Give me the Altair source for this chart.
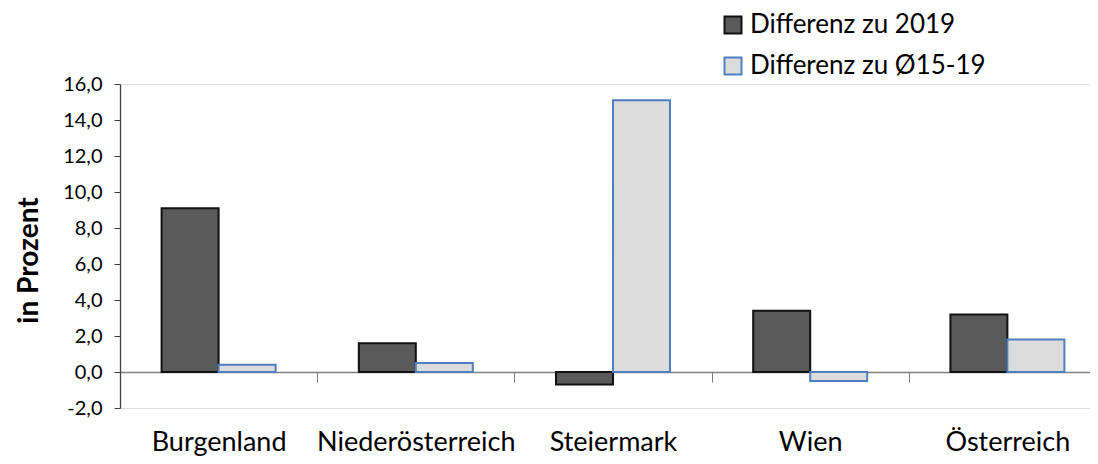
import altair as alt
import pandas as pd

categories = ["Burgenland", "Niederösterreich", "Steiermark", "Wien", "Österreich"]
series = ["Differenz zu 2019", "Differenz zu Ø15-19"]
diff_2019 = [9.1, 1.6, -0.7, 3.4, 3.2]
diff_avg = [0.4, 0.5, 15.1, -0.5, 1.8]
y_ticks = [-2, 0, 2, 4, 6, 8, 10, 12, 14, 16]

rows = []
for c, a, b in zip(categories, diff_2019, diff_avg):
    rows.append({"Region": c, "Serie": series[0], "Wert": a})
    rows.append({"Region": c, "Serie": series[1], "Wert": b})
df = pd.DataFrame(rows)

FONT = "Lato"

fill_scale = alt.Scale(domain=series, range=["#5a5a5a", "#dcdcdc"])
stroke_scale = alt.Scale(domain=series, range=["#111111", "#4f7fc0"])

chart = alt.Chart(df).mark_bar(strokeWidth=2).encode(
    x=alt.X(
        "Region:N",
        sort=categories,
        scale=alt.Scale(range=[0, 986], paddingInner=0, paddingOuter=0),
        axis=alt.Axis(
            title=None,
            labelAngle=0,
            offset=-36,
            tickBand="extent",
            tickSize=10,
            tickColor="#7f7f7f",
            domainColor="#7f7f7f",
            domainWidth=1.3,
            labelPadding=47,
            labelFont=FONT,
            labelFontSize=27,
            labelLimit=400,
            labelColor="#000000",
        ),
    ),
    xOffset=alt.XOffset("Serie:N", sort=series,
                        scale=alt.Scale(paddingOuter=0.73, paddingInner=0)),
    y=alt.Y(
        "Wert:Q",
        scale=alt.Scale(domain=[-2, 16], nice=False, zero=True),
        axis=alt.Axis(
            title="in Prozent",
            values=y_ticks,
            grid=False,
            tickSize=6,
            tickColor="#404040",
            domainColor="#404040",
            domainWidth=1.3,
            labelPadding=12,
            labelFont=FONT,
            labelFontSize=20,
            labelColor="#000000",
            labelExpr="replace(replace(format(datum.value, '.1f'), '.', ','), '\u2212', '-')",
            titleFont=FONT,
            titleFontSize=28,
            titleFontWeight="bold",
            titleColor="#000000",
            titleAngle=270,
            titleAlign="center",
            titleBaseline="alphabetic",
            titleX=-83,
            titleY=176,
        ),
    ),
    fill=alt.Fill(
        "Serie:N",
        scale=fill_scale,
        legend=alt.Legend(
            title=None,
            orient="none",
            legendX=600,
            legendY=-72,
            symbolType="square",
            symbolSize=289,
            symbolStrokeWidth=2,
            labelFont=FONT,
            labelFontSize=26,
            labelColor="#000000",
            labelOffset=4,
            rowPadding=15,
            padding=0,
            labelLimit=400,
        ),
    ),
    stroke=alt.Stroke("Serie:N", scale=stroke_scale, legend=None),
).properties(
    width=970,
    height=324,
    autosize=alt.AutoSizeParams(type="none"),
    padding={"left": 112, "top": 76, "right": 0, "bottom": 48},
).configure_view(stroke=None).configure(background="white")

chart.save("out.html", embed_options={"renderer": "svg", "actions": False})
